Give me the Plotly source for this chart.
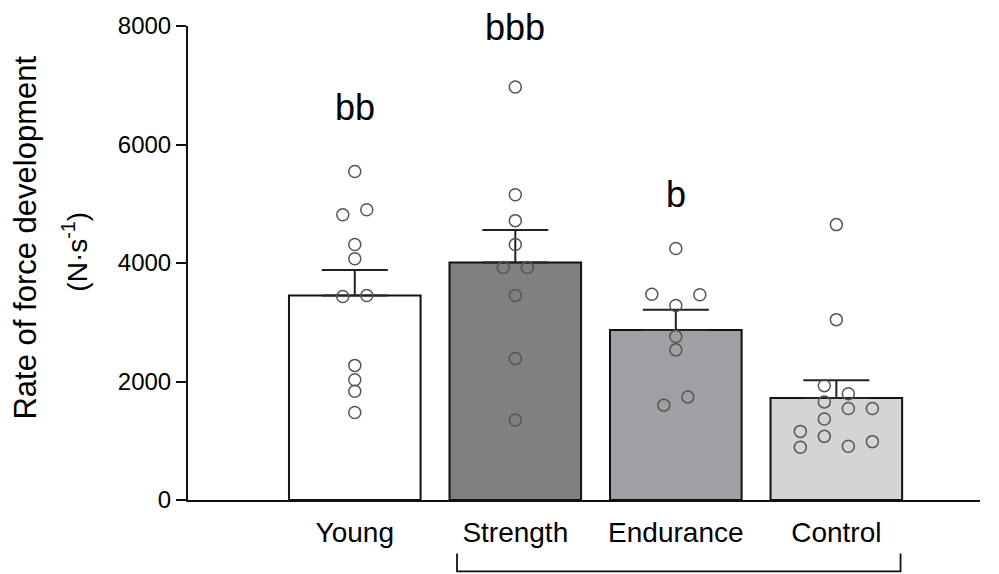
import plotly.graph_objects as go

groups = ["Young", "Strength", "Endurance", "Control"]
means = [3451, 4010, 2869, 1723]
sems = [432, 549, 342, 297]
bar_colors = ["#ffffff", "#808080", "#a0a0a4", "#d4d4d4"]
letters = ["bb", "bbb", "b", ""]
letter_y = [6630, 7970, 5150, None]

young_vals = [5544, 4815, 4899, 4312, 4072, 3434, 3451, 2272, 2030, 1836, 1477]
young_cols = [0, -1, 1, 0, 0, -1, 1, 0, 0, 0, 0]
strength_vals = [6970, 5151, 4715, 4312, 3926, 3926, 3451, 2389, 1349]
strength_cols = [0, 0, 0, 0, -1, 1, 0, 0, 0]
endurance_vals = [4245, 3473, 3463, 3284, 2758, 2534, 1740, 1601]
endurance_cols = [0, -2, 2, 0, 0, 0, 1, -1]
control_vals = [4648, 3044, 1930, 1795, 1656, 1544, 1544, 1366, 1158, 1074, 985, 889, 906]
control_cols = [0, 0, -1, 1, -1, 1, 3, -1, -3, -1, 3, -3, 1]

yticks = [0, 2000, 4000, 6000, 8000]

point_sets = [(young_vals, young_cols), (strength_vals, strength_cols),
              (endurance_vals, endurance_cols), (control_vals, control_cols)]
dot_step = 0.0748
FONT = "Liberation Sans, Arial, sans-serif"

fig = go.Figure()
fig.add_trace(go.Bar(
    x=list(range(len(groups))), y=means, width=0.82,
    marker=dict(color=bar_colors, line=dict(color="#111", width=2)),
    error_y=dict(type="data", symmetric=False, array=sems, arrayminus=[0] * len(sems),
                 width=33, thickness=2, color="#222"),
    showlegend=False, hoverinfo="skip",
))
for gi, (vals, cols) in enumerate(point_sets):
    fig.add_trace(go.Scatter(
        x=[gi + c * dot_step for c in cols], y=vals, mode="markers",
        marker=dict(symbol="circle", size=12, color="rgba(0,0,0,0)",
                    line=dict(color="#555", width=1.5)),
        showlegend=False, hoverinfo="skip", cliponaxis=False,
    ))

for gi, (txt, ly) in enumerate(zip(letters, letter_y)):
    if txt:
        fig.add_annotation(x=gi, y=ly, xref="x", yref="y", text=txt, showarrow=False,
                           font=dict(family=FONT, size=36, color="#000"),
                           xanchor="center", yanchor="middle")

# bracket under Strength / Endurance / Control
fig.add_shape(type="path", xref="x", yref="paper",
              path="M 0.637,-0.113 L 0.637,-0.1506 L 3.40,-0.1506 L 3.40,-0.113",
              line=dict(color="#111", width=1.8))

fig.add_annotation(x=-0.205, y=0.553, xref="paper", yref="paper",
                   text="Rate of force development", textangle=-90, showarrow=False,
                   font=dict(family=FONT, size=31, color="#000"),
                   xanchor="center", yanchor="middle")
fig.add_annotation(x=-0.142, y=0.523, xref="paper", yref="paper",
                   text="(N·s<sup>-1</sup>)", textangle=-90, showarrow=False,
                   font=dict(family=FONT, size=28, color="#000"),
                   xanchor="center", yanchor="middle")

fig.update_layout(
    width=999, height=574,
    margin=dict(l=188, r=19, t=22, b=74),
    paper_bgcolor="white", plot_bgcolor="white",
    font=dict(family=FONT, color="#000"),
    xaxis=dict(range=[-1.039, 3.895], tickvals=list(range(len(groups))), ticktext=groups,
               showline=True, linecolor="#111", linewidth=2, ticks="", showgrid=False,
               zeroline=False, tickfont=dict(size=28), ticklabelstandoff=6),
    yaxis=dict(range=[0, 8000], tickvals=yticks, showline=True, linecolor="#111", linewidth=2,
               ticks="outside", ticklen=10, tickwidth=2, tickcolor="#111", showgrid=False,
               zeroline=False, tickfont=dict(size=24)),
)
fig.write_html("out.html")
